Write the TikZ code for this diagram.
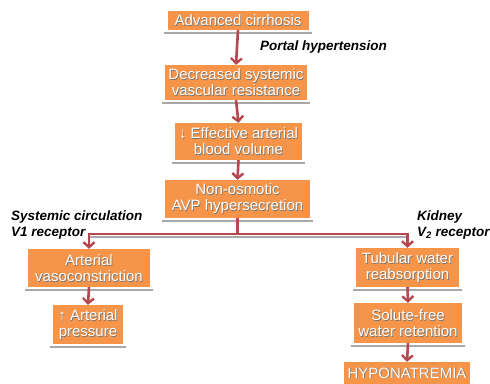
\documentclass[tikz,border=0pt]{standalone}
\usepackage{fontspec}
\setmainfont{Liberation Sans}
\usetikzlibrary{arrows.meta}
\definecolor{boxorange}{HTML}{F6954A}
\definecolor{arrred}{HTML}{B5474E}
\definecolor{shadegray}{HTML}{A8A8A8}
\tikzset{
  boxbg/.style={fill=boxorange, draw=none, inner sep=0pt},
  boxtxt/.style={text=white, align=center, inner sep=0pt, font=\fontsize{15}{16}\selectfont},
  boxsh/.style={text=black!55, align=center, inner sep=0pt, font=\fontsize{15}{16}\selectfont},
  underline/.style={draw=shadegray, line width=1.6pt},
  conn/.style={draw=arrred, line width=2.6pt},
  arr/.style={conn, -{Straight Barb[length=5pt,width=11pt,line width=2.4pt]}},
  lbl/.style={text=black, align=left, inner sep=0pt, font=\fontsize{13.5}{16}\selectfont\bfseries\itshape}
}
% \bx{name}{x}{y}{w}{h}{text}
\newcommand{\bx}[6]{%
  \node[boxbg, minimum width=#4pt, minimum height=#5pt] (#1) at (#2,#3) {};
  \draw[underline] ([xshift=-3pt,yshift=-3pt]#1.south west) -- ([xshift=3pt,yshift=-3pt]#1.south east);
  \node[boxsh] (#1s) at ([xshift=0.7pt,yshift=-0.7pt]#1.center) {#6};
  \node[boxtxt] (#1t) at (#1.center) {#6};
}
\begin{document}
\begin{tikzpicture}[x=1pt,y=-1pt]
\useasboundingbox (0,0) rectangle (490,383);
\fill[white] (0,0) rectangle (490,383);

\bx{n1}{238}{20.5}{141}{19}{Advanced cirrhosis}
\bx{n2}{236}{82.5}{142}{35}{Decreased systemic\\vascular resistance}
\bx{n3}{238.5}{141.5}{127}{37}{\char"2193\ Effective arterial\\blood volume}
\bx{n4}{237.5}{199}{145}{38}{Non-osmotic\\AVP hypersecretion}
\bx{n5}{89}{268}{122}{38}{Arterial\\vasoconstriction}
\bx{n6}{88}{324.5}{70}{39}{\char"2191\ Arterial\\pressure}
\bx{n7}{407.5}{267.5}{103}{39}{Tubular water\\reabsorption}
\bx{n8}{408}{323}{108}{40}{Solute-free\\water retention}
\bx{n9}{407}{373}{126}{22}{HYPONATREMIA}

% connectors
\draw[arr] (n1.south) -- (n2.north);
\draw[arr] (n2.south) -- (n3.north);
\draw[arr] (n3.south) -- (n4.north);

\coordinate (hmid) at (237.5,234);
\draw[draw=shadegray, line width=1.6pt] ([yshift=-3pt]n5.north |- hmid) -- ([yshift=-3pt]n7.north |- hmid);
\draw[conn] (n4.south) -- (hmid);
\draw[arr] (hmid) -| (n5.north);
\draw[arr] (hmid) -| (n7.north);
\draw[arr] (n5.south) -- (n6.north);
\draw[arr] (n7.south) -- (n8.north);
\draw[arr] (n8.south) -- (n9.north);

% labels
\node[lbl, anchor=west] (lp) at (260,47) {Portal hypertension};
\node[lbl, anchor=west] (ls) at (11,225) {Systemic circulation\\V1 receptor};
\node[lbl, anchor=west] (lk) at (417,225) {Kidney\\V\textsubscript{2} receptor};
\end{tikzpicture}
\end{document}
